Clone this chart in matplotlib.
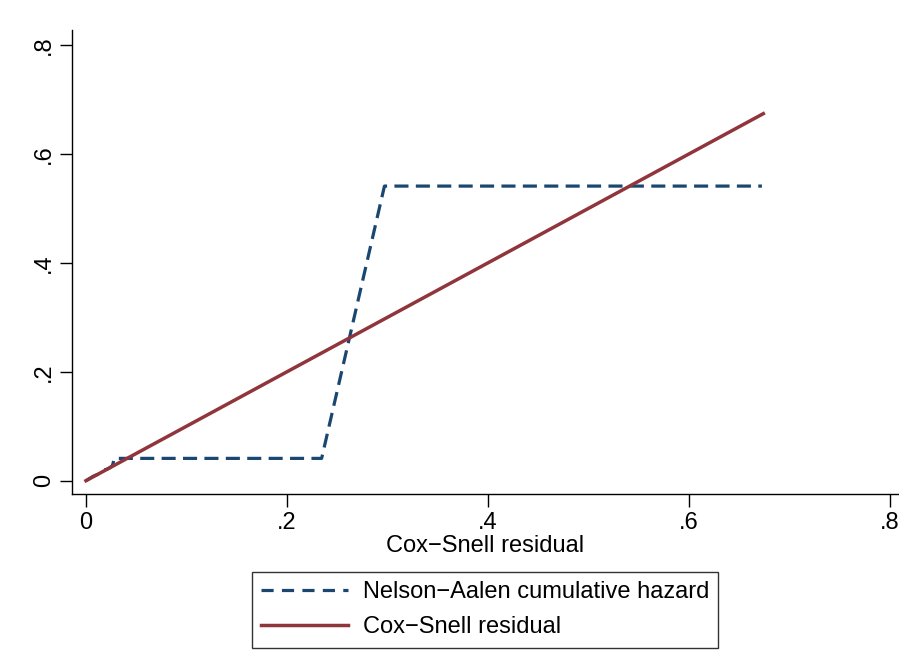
import matplotlib
matplotlib.use("Agg")
import matplotlib.pyplot as plt
from matplotlib.lines import Line2D

# Data
na_x = [0.0, 0.007, 0.012, 0.017, 0.022, 0.026, 0.027, 0.028, 0.2345, 0.297, 0.6726]
na_y = [0.0, 0.008, 0.012, 0.019, 0.022, 0.027, 0.032, 0.041, 0.041, 0.541, 0.541]
cs_x = [0.0, 0.674]
cs_y = [0.0, 0.674]

xticks = [0, 0.2, 0.4, 0.6, 0.8]
xticklabels = ["0", ".2", ".4", ".6", ".8"]
yticks = [0, 0.2, 0.4, 0.6, 0.8]
yticklabels = ["0", ".2", ".4", ".6", ".8"]

navy = "#1a476f"
maroon = "#90353b"

plt.rcParams['font.family'] = ['Liberation Sans', 'DejaVu Sans']
FS = 17

fig = plt.figure(figsize=(8.99, 6.5), dpi=100)
ax = fig.add_axes([72/899, 1-494/650, 1-72/899, (494-30)/650])

ax.plot(na_x, na_y, color=navy, lw=2.3, linestyle=(0, (4.4, 2.3)), dash_capstyle='butt',
        solid_joinstyle='round', zorder=2)
ax.plot(cs_x, cs_y, color=maroon, lw=2.5, zorder=3)

ax.set_xlim(-0.0139, 0.809)
ax.set_ylim(-0.0244, 0.8276)
ax.set_xticks(xticks)
ax.set_xticklabels(xticklabels)
ax.set_yticks(yticks)
ax.set_yticklabels(yticklabels, rotation=90, va='center')
ax.tick_params(axis='both', labelsize=FS, length=9, width=1.0, color='black')
ax.tick_params(axis='x', pad=4)
ax.tick_params(axis='y', pad=3)
for s in ['top', 'right']:
    ax.spines[s].set_visible(False)
for s in ['left', 'bottom']:
    ax.spines[s].set_linewidth(1.0)
    ax.spines[s].set_color('black')

ax.set_xlabel("Cox\u2212Snell residual", fontsize=FS, labelpad=1)

handles = [
    Line2D([], [], color=navy, lw=2.3, linestyle=(0, (3.8, 2.6)), dash_capstyle='butt'),
    Line2D([], [], color=maroon, lw=2.5),
]
labels = ["Nelson\u2212Aalen cumulative hazard", "Cox\u2212Snell residual"]
leg = fig.legend(handles, labels, loc='upper center', bbox_to_anchor=(485/899, 1-572/650),
                 fontsize=FS, frameon=True, fancybox=False, edgecolor='black',
                 handlelength=3.7, handletextpad=0.6, labelspacing=0.55,
                 borderpad=0.4, borderaxespad=0)
leg.get_frame().set_linewidth(1.0)

fig.savefig("out.png", dpi=100, facecolor='white')
